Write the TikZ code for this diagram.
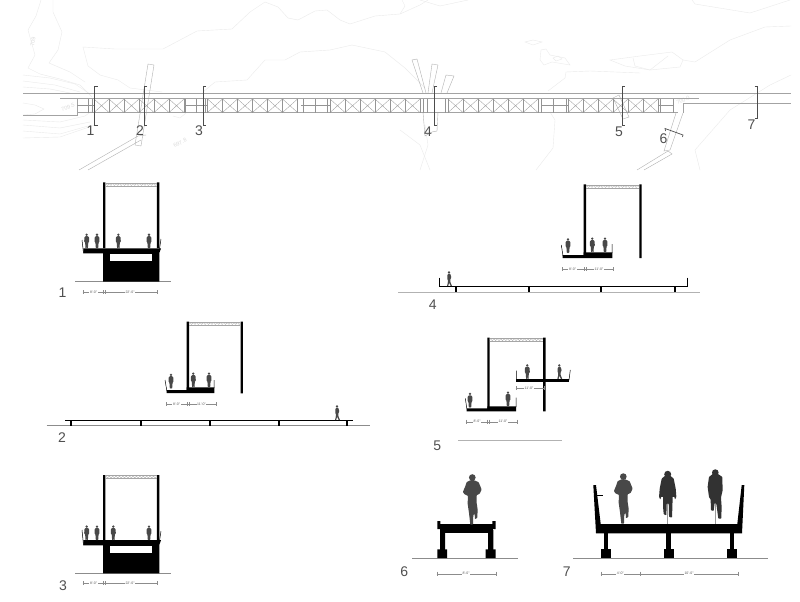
\documentclass[tikz,border=0pt]{standalone}
\usepackage{fontspec}
\setmainfont{Liberation Sans}
\usetikzlibrary{decorations.pathmorphing}
\definecolor{inkgrey}{HTML}{484848}
\definecolor{numgrey}{HTML}{505050}
\newcommand{\portalbar}[3]{%
  \draw[trussline] (#1,#3) -- (#2,#3) (#1,#3+3) -- (#2,#3+3);
  \draw[trussline,decorate,decoration={zigzag,segment length=3.4pt,amplitude=1pt}] (#1,#3+1.5) -- (#2,#3+1.5);
}
\newcommand{\dimline}[2]{%
  \foreach \dx in {#2} {\draw[dimstroke] (\dx,#1-2) -- (\dx,#1+2);}
}
\begin{document}
\begin{tikzpicture}[x=1pt,y=-1pt,
    contour/.style={draw=black!8,line width=.4pt},
    contourtext/.style={text=black!14,font=\fontsize{5.5}{6}\selectfont,inner sep=0pt},
    planline/.style={draw=black!36,line width=.6pt},
    crossline/.style={draw=black!42,line width=.3pt},
    rampline/.style={draw=black!30,line width=.4pt},
    bracketline/.style={draw=black!70,line width=.7pt},
    seclabel/.style={text=numgrey,font=\fontsize{14}{14}\selectfont,inner sep=0pt},
    solid black/.style={fill=black,draw=none},
    ground/.style={draw=black!45,line width=.5pt},
    trussline/.style={draw=black!35,line width=.3pt},
    dimstroke/.style={draw=black!45,line width=.25pt},
    dimtext/.style={text=black!65,fill=white,font=\fontsize{3.5}{3.5}\selectfont,inner sep=.6pt},
    person/.pic={
      \fill[inkgrey,rounded corners=.4pt] (-3,-37) -- (-7,-33) -- (-7.5,-20) -- (-5,-18) -- (-4.5,-14)
        -- (-3.5,0) -- (-.8,0) -- (0,-14) -- (.8,0) -- (3.5,0) -- (4.5,-14) -- (5,-18) -- (7.5,-20) -- (7,-33) -- (3,-37) -- cycle;
      \fill[inkgrey] (0,-41) circle (3.8);
    },
    strider/.pic={
      \fill[inkgrey,rounded corners=.4pt] (-2,-37) -- (-5,-32) -- (-5,-20) -- (-3,-18) -- (-4,-8) -- (-6,0) -- (-2,0)
        -- (0,-10) -- (5,0) -- (9,0) -- (4,-12) -- (4,-20) -- (7,-26) -- (5,-33) -- (3,-37) -- cycle;
      \fill[inkgrey] (0,-41) circle (3.8);
    },
    runner/.pic={
      \fill[inkgrey,rounded corners=.5pt] (-5,-133) -- (-17,-127) -- (-21,-115) -- (-28,-98) -- (-24,-91) -- (-13,-86) -- (-14,-63)
        -- (-10,-35) -- (-6,0) -- (2,0) -- (3,-28) -- (7,-32) -- (8,-16) -- (15,-20) -- (16,-45) -- (13,-65)
        -- (13,-88) -- (22,-92) -- (28,-105) -- (19,-127) -- (5,-133) -- cycle;
      \fill[inkgrey] (0,-141) circle (10);
    },
    cyclist/.pic={
      \fill[black!40] (-2,0) rectangle (2,-75);
      \fill[black!75] (-25,-84) rectangle (25,-80);
      \fill[inkgrey!70!black,rounded corners=.6pt] (-6,-145) -- (-18,-135) -- (-24,-105) -- (-26,-80) -- (-22,-72) -- (-20,-80) -- (-14,-82)
        -- (-14,-50) -- (-12,-28) -- (-4,-25) -- (-3,-60) -- (3,-60) -- (4,-20) -- (13,-18) -- (14,-50) -- (15,-82) -- (20,-80)
        -- (22,-72) -- (26,-80) -- (24,-105) -- (18,-135) -- (6,-145) -- cycle;
      \fill[inkgrey!70!black] (0,-148) circle (10.5);
    },
    cyclistback/.pic={
      \fill[black!40] (-2,0) rectangle (2,-75);
      \fill[inkgrey!70!black,rounded corners=.6pt] (-6,-150) -- (-19,-140) -- (-23,-110) -- (-19,-80) -- (-14,-72) -- (-13,-40) -- (-5,-38)
        -- (-2,-62) -- (3,-60) -- (9,-15) -- (18,-15) -- (19,-50) -- (17,-78) -- (22,-100) -- (21,-140) -- (6,-150) -- cycle;
      \fill[inkgrey!70!black] (0,-153) circle (10);
    }]
  \useasboundingbox (0,0) rectangle (800,602);
  \fill[white] (0,0) rectangle (800,602);

  % site contours
  \draw[contour] (41,0) -- (36,16) -- (28,30) -- (35,55) -- (28,68) -- (40,74) -- (60,79) -- (80,85) -- (92,97);
  \draw[contour] (53,0) -- (53,12) -- (62,32) -- (58,50) -- (49,63) -- (70,72) -- (85,82);
  \draw[contour] (23,75) -- (50,78) -- (75,84) -- (90,94);
  \draw[contour] (23,81) -- (55,85) -- (80,92);
  \draw[contour] (23,87) -- (50,89) -- (70,93);
  \draw[contour] (23,103) -- (35,105) -- (44,109) -- (35,114) -- (23,115);
  \draw[contour] (23,120) -- (60,122) -- (85,116) -- (93,110);
  \draw[contour] (23,125) -- (60,128) -- (90,122);
  \draw[contour] (23,131) -- (60,134) -- (88,126);
  \draw[contour] (23,138) -- (60,137) -- (95,125);
  \draw[contour] (162,92) -- (130,88) -- (118,80) -- (100,75) -- (88,66) -- (83,47) -- (115,49) -- (163,49) -- (197,31) -- (232,29) -- (250,12)
    -- (265,2) -- (278,7) -- (288,18) -- (298,20) -- (315,11) -- (327,10) -- (340,20) -- (350,24) -- (375,16) -- (400,14) -- (420,5) -- (428,0);
  \draw[contour] (203,92) -- (215,82) -- (247,80) -- (265,60) -- (285,60) -- (300,52) -- (330,50) -- (352,45) -- (385,52) -- (405,68) -- (425,88);
  \draw[contour] (173,116) -- (180,118) -- (186,113);
  \draw[contour] (400,14) -- (405,6) -- (402,0) (420,0) -- (440,6) -- (468,0);
  \draw[contour] (692,0) -- (695,4) -- (750,13) -- (790,0);
  \draw[contour] (525,42) -- (533,40) -- (542,42) -- (533,45) -- cycle;
  \draw[contour] (541,50) -- (546,49) -- (550,55) -- (565,58) -- (570,65) -- (552,62) -- (544,65) -- (540,60) -- cycle;
  \draw[contour] (553,58) -- (558,56) -- (562,59) -- (556,61) -- cycle;
  \draw[contour] (610,60) -- (640,56) -- (672,52) -- (683,60) -- (680,67) -- (650,70) -- (625,66) -- cycle;
  \draw[contour] (633,58) -- (635,66) -- (650,70) (650,70) -- (668,56);
  \draw[contour] (548,91) -- (565,78) -- (566,72) -- (590,71) -- (640,73);
  \draw[contour] (683,60) -- (695,62) -- (730,40) -- (765,27) -- (791,26);
  \draw[contour] (700,170) -- (695,150) -- (730,110) -- (770,85) -- (791,75);
  \draw[contour] (536,170) -- (553,148) -- (555,120) -- (550,112);
  \draw[contour] (420,170) -- (428,145) -- (425,125);
  \draw[contour] (400,130) -- (420,145) -- (430,170);
  \node[contourtext,rotate=82] (level709) at (33,42) {709};
  \node[contourtext,rotate=20] (level7095) at (68,107) {709.5};
  \node[contourtext,rotate=27] (level6978) at (180,143) {697.8};
  \node[contourtext,rotate=25] (level700) at (683,100) {700.0};

  % ramps in plan
  \draw[rampline] (148,64) -- (154,65) -- (141,146) -- (135,145) -- cycle;
  \draw[rampline] (79,170) -- (138,136) -- (146,135) (88,170) -- (141,140);
  \draw[rampline] (423,93) -- (412,60) -- (417,59) -- (426,93);
  \draw[rampline] (428,93) -- (432,64) -- (438,65) -- (432,93);
  \draw[rampline] (441,93) -- (446,75) -- (454,76) -- (447,93);
  \draw[rampline] (423,112) -- (425,136) -- (432,132) -- (437,131) -- (438,112);
  \draw[rampline] (613,98) -- (619,95) -- (629,117) -- (623,119) -- cycle;
  \draw[rampline] (676,113) -- (664,151) -- (670,150) -- (683,113);
  \draw[rampline] (637,170) -- (668,151) -- (672,154) -- (644,170);

  % bridge in plan
  \draw[planline] (23,93.5) -- (791,93.5);
  \draw[planline] (60,98.5) -- (699,98.5);
  \draw[planline] (77,99) -- (77,115) -- (23,115);
  \draw[planline] (77,112.5) -- (678,112.5);
  \draw[planline] (683,103) -- (791,103) (683,103) -- (683,112.5);
  \foreach \tx in {94,207.5,330,448,568} {
    \foreach \i in {0,...,5} {
      \draw[crossline] ({\tx+15*\i},99) -- ({\tx+15*\i+15},112.5) ({\tx+15*\i},112.5) -- ({\tx+15*\i+15},99);
      \draw[crossline] ({\tx+15*\i},99) -- ({\tx+15*\i},112.5);
    }
    \draw[crossline] ({\tx+90},99) -- ({\tx+90},112.5);
  }
  \foreach \gx in {88,92,185,196,205,303,315,327,423,427,445,541,553,566,660,673} {
    \draw[crossline] (\gx,99) -- (\gx,112.5);
  }
  \draw[crossline] (77,105) -- (94,105) (184,105) -- (207,105) (301,105) -- (330,105) (541,105) -- (568,105) (659,105) -- (673,105);

  % section marks
  \foreach \sx/\sb in {94.5/125,144/125,203/125,434/125,622/125} {
    \draw[bracketline] (\sx+3,86.5) -- (\sx,86.5) -- (\sx,\sb) -- (\sx+3,\sb);
  }
  \draw[bracketline] (754.5,86.5) -- (757.5,86.5) -- (757.5,118) -- (754.5,118);
  \draw[bracketline] (665.5,131) -- (665,128.5) -- (683,135) -- (682.5,137);
  \node[seclabel] (plan1) at (90.5,131) {1};
  \node[seclabel] (plan2) at (140,131) {2};
  \node[seclabel] (plan3) at (199,131) {3};
  \node[seclabel] (plan4) at (428,132) {4};
  \node[seclabel] (plan5) at (619,131.5) {5};
  \node[seclabel] (plan6) at (663.5,139) {6};
  \node[seclabel] (plan7) at (751.5,125) {7};

  % section 1
  \draw[ground] (75,281.7) -- (170.7,281.7);
  \fill[solid black] (103,182.3) rectangle (105.4,248) (156.9,182.3) rectangle (159.3,248);
  \fill[solid black] (83.3,248.4) -- (161,248.4) -- (159.3,253) -- (159.3,281.7) -- (103,281.7) -- (103,253.3) -- (83.3,253.3) -- cycle;
  \fill[white] (110,254) rectangle (152,260.7);
  \draw[draw=black,line width=.5pt] (82,240) -- (83.5,253) (161,239) -- (159.5,249);
  \portalbar{105}{157}{183}
  \foreach \px in {86.7,97,118.3,149} {\pic[scale=1/3] at (\px,248.4) {person};}
  \draw[dimstroke] (82.7,292.3) -- (156.7,292.3);
  \dimline{292.3}{82.7,103,105.3,156.7}
  \node[dimtext] (dima1) at (93.5,292.3) {8'-0"};
  \node[dimtext] (dimb1) at (130,292.3) {22'-0"};
  \node[seclabel] (label1) at (62.5,293) {1};

  % section 2
  \fill[solid black] (186.7,321.7) rectangle (189,390) (240.7,321.7) rectangle (242.9,393.3);
  \fill[solid black] (166.7,390) -- (186.7,390) -- (186.7,387.3) -- (214.3,387.3) -- (214.3,393) -- (166.7,393) -- cycle;
  \draw[draw=black,line width=.5pt] (165,380) -- (166.9,391) (214,380) -- (214,388);
  \portalbar{189}{240.7}{322}
  \pic[scale=1/3] at (171,388.5) {person};
  \pic[scale=1/3] at (193.3,387.3) {person};
  \pic[scale=1/3] at (209,387.3) {person};
  \draw[dimstroke] (166.3,404.3) -- (215.7,404.3);
  \dimline{404.3}{166.3,187,189,215.7}
  \node[dimtext] (dima2) at (176.5,404.3) {8'-0"};
  \node[dimtext] (dimb2) at (201.5,404.3) {11'-0"};
  \draw[ground] (46.7,425.3) -- (370,425.3);
  \fill[solid black] (65,419.6) rectangle (353.3,421.2);
  \foreach \px in {70.7,141,210,279,347} {\fill[solid black] (\px-1.2,420) rectangle (\px+1.2,425.5);}
  \pic[scale=1/3] at (337,420) {strider};
  \node[seclabel] (label2) at (62,438) {2};

  % section 3
  \draw[ground] (75,573.3) -- (170.7,573.3);
  \fill[solid black] (103,475) rectangle (105.4,540) (156.9,475) rectangle (159.3,540);
  \fill[solid black] (83.3,540.2) -- (161,540.2) -- (159.3,545) -- (159.3,573.3) -- (103,573.3) -- (103,545.3) -- (83.3,545.3) -- cycle;
  \fill[white] (110,545.7) rectangle (152,552.7);
  \draw[draw=black,line width=.5pt] (82,530) -- (83.5,545) (161,531) -- (159.5,541);
  \portalbar{105}{157}{475.5}
  \foreach \px in {86.7,97,113.3,149} {\pic[scale=1/3] at (\px,540.2) {person};}
  \draw[dimstroke] (82.7,583.3) -- (156.7,583.3);
  \dimline{583.3}{82.7,103,105.3,156.7}
  \node[dimtext] (dima3) at (93.5,583.3) {8'-0"};
  \node[dimtext] (dimb3) at (130,583.3) {22'-0"};
  \node[seclabel] (label3) at (63,586) {3};

  % section 4
  \fill[solid black] (583.7,184.3) rectangle (586,255) (639.3,184.3) rectangle (641.7,258);
  \fill[solid black] (562.7,255) -- (583.7,255) -- (583.7,252.3) -- (612.3,252.3) -- (612.3,258) -- (562.7,258) -- cycle;
  \draw[draw=black,line width=.5pt] (561.3,245) -- (563,256) (612,244) -- (612,253);
  \portalbar{586}{639.3}{185}
  \pic[scale=1/3] at (568,253) {person};
  \pic[scale=1/3] at (592.3,252.3) {person};
  \pic[scale=1/3] at (605,252.3) {person};
  \draw[dimstroke] (562.3,269) -- (613.3,269);
  \dimline{269}{562.3,584,586,613.3}
  \node[dimtext] (dima4) at (572.5,269) {8'-0"};
  \node[dimtext] (dimb4) at (599,269) {11'-0"};
  \draw[draw=black!30,line width=.8pt] (398,292) -- (700,292);
  \fill[solid black] (439,286) rectangle (687.7,287.4);
  \draw[draw=black,line width=.5pt] (439,277.7) -- (439,287) (687.7,277.7) -- (687.7,287);
  \foreach \px in {455.7,528.7,601.3,674.7} {\fill[solid black] (\px-1.1,287) rectangle (\px+1.1,292);}
  \pic[scale=1/3] at (449,286) {strider};
  \node[seclabel] (label4) at (432.7,304.3) {4};

  % section 5
  \fill[solid black] (487.3,337.7) rectangle (489.7,409) (543,337.7) rectangle (545.7,411.3);
  \fill[solid black] (466.7,408.3) -- (487.3,408.3) -- (487.3,406.3) -- (516,406.3) -- (516,411.3) -- (466.7,411.3) -- cycle;
  \draw[draw=black,line width=.5pt] (465.3,398.3) -- (466.9,409) (516,397.7) -- (516,407);
  \fill[solid black] (516.3,379) rectangle (569,381.7);
  \draw[draw=black,line width=.5pt] (516.3,370.7) -- (516.3,380) (570.3,370) -- (569,380);
  \portalbar{489.7}{543}{338.2}
  \pic[scale=1/3] at (470,407.6) {person};
  \pic[scale=1/3] at (508,406.3) {person};
  \pic[scale=1/3] at (527.3,379) {person};
  \pic[scale=1/3] at (559.3,379) {strider};
  \draw[dimstroke] (465.7,421.7) -- (517.3,421.7) (515.7,388.3) -- (543.7,388.3);
  \dimline{421.7}{465.7,487.3,489.3,517.3}
  \dimline{388.3}{515.7,543.7}
  \node[dimtext] (dima5) at (477,421.7) {8'-0"};
  \node[dimtext] (dimb5) at (503,421.7) {11'-0"};
  \node[dimtext] (dimc5) at (529,388.3) {11'-0"};
  \draw[draw=black!30,line width=.6pt] (458.3,440.7) -- (562,440.7);
  \node[seclabel] (label5) at (437.3,446) {5};

  % section 6
  \draw[ground] (412.3,558) -- (517.7,558);
  \fill[solid black] (437.3,521) rectangle (440.3,529) (492.3,521) rectangle (495.7,529);
  \fill[solid black] (440,524.3) rectangle (493,533.3);
  \fill[solid black] (440,530) rectangle (445,550) (488,530) rectangle (493.3,550);
  \fill[solid black] (437.3,549.3) rectangle (447,558) (485.7,549.3) rectangle (495.7,558);
  \pic[scale=1/3] at (472.3,524.5) {runner};
  \draw[dimstroke] (436.7,573.7) -- (496,573.7);
  \dimline{573.7}{436.7,496}
  \node[dimtext] (dima6) at (466,573.7) {8'-0"};
  \node[seclabel] (label6) at (404.3,571.7) {6};

  % section 7
  \draw[ground] (573.3,558.3) -- (768.3,558.3);
  \fill[solid black] (593.3,485) -- (596,485) -- (600.7,524) -- (737.3,524) -- (741.7,485) -- (744.3,485) -- (742,533.3) -- (596,533.3) -- cycle;
  \draw[draw=black,line width=.6pt] (597,495) -- (603.3,495);
  \foreach \px in {606,668.7,732} {
    \fill[solid black] (\px-2.3,533) rectangle (\px+2.3,550);
    \fill[solid black] (\px-4.9,549.3) rectangle (\px+4.9,558);
  }
  \pic[scale=1/3] at (623.3,523.6) {runner};
  \pic[scale=1/3] at (667.7,523.6) {cyclist};
  \pic[scale=1/3] at (715.3,523.6) {cyclistback};
  \draw[dimstroke] (600.7,573.7) -- (738.3,573.7);
  \dimline{573.7}{600.7,639.7,738.3}
  \node[dimtext] (dima7) at (620.3,573.7) {4'-0"};
  \node[dimtext] (dimb7) at (689,573.7) {10'-0"};
  \node[seclabel] (label7) at (566.7,571.7) {7};
\end{tikzpicture}
\end{document}
